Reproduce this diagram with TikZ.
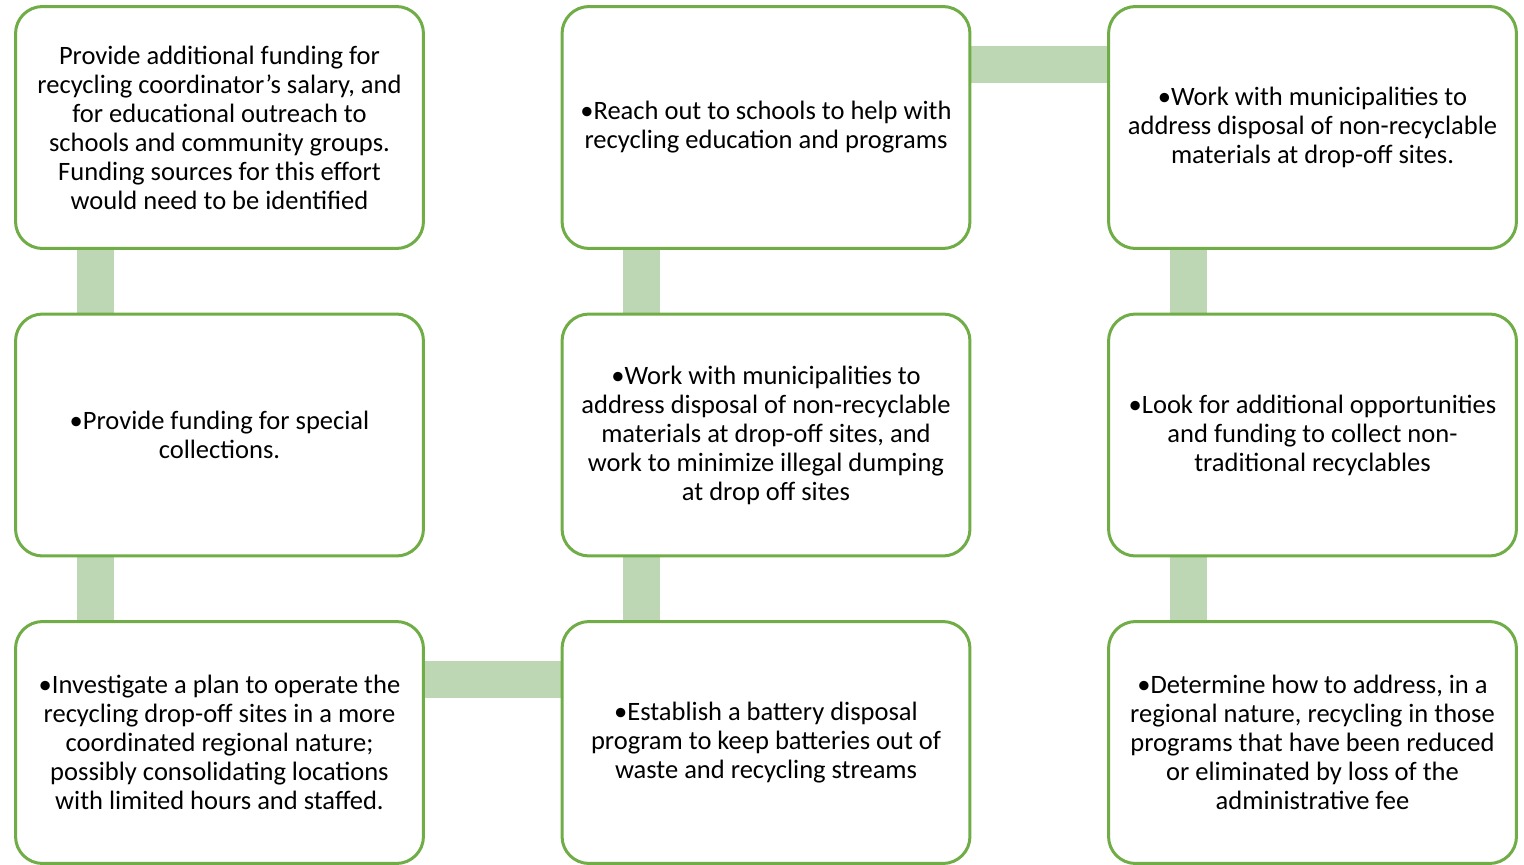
\documentclass[tikz,border=0pt]{standalone}
\usepackage{fontspec}
\setmainfont{Carlito}
\usetikzlibrary{backgrounds}
\definecolor{boxgreen}{RGB}{112,173,71}
\definecolor{linkgreen}{RGB}{189,214,179}

\begin{document}
\begin{tikzpicture}[x=0.02cm, y=-0.02cm,
    box/.style={draw=boxgreen, line width=0.06cm, fill=white, rounded corners=0.54cm,
        minimum width=8.16cm, minimum height=4.84cm, inner sep=0pt, align=center,
        font=\fontsize{15.1}{16.5}\selectfont},
    link/.style={draw=linkgreen, line width=0.74cm}]
\useasboundingbox (0,0) rectangle (1524,865);
    \node[box] (a) at (219.5, 127.5) {Provide additional funding for\\ recycling coordinator’s salary, and\\ for educational outreach to\\ schools and community groups.\\ Funding sources for this effort\\ would need to be identified};
    \node[box] (b) at (766, 127.5) {\textbullet Reach out to schools to help with\\ recycling education and programs};
    \node[box] (c) at (1312.5, 127.5) {\textbullet Work with municipalities to\\ address disposal of non-recyclable\\ materials at drop-off sites.};
    \node[box] (d) at (219.5, 435) {\textbullet Provide funding for special\\ collections.};
    \node[box] (e) at (766, 435) {\textbullet Work with municipalities to\\ address disposal of non-recyclable\\ materials at drop-off sites, and\\ work to minimize illegal dumping\\ at drop off sites};
    \node[box] (f) at (1312.5, 435) {\textbullet Look for additional opportunities\\ and funding to collect non-\\ traditional recyclables};
    \node[box] (g) at (219.5, 742.5) {\textbullet Investigate a plan to operate the\\ recycling drop-off sites in a more\\ coordinated regional nature;\\ possibly consolidating locations\\ with limited hours and staffed.};
    \node[box] (h) at (766, 742.5) {\textbullet Establish a battery disposal\\ program to keep batteries out of\\ waste and recycling streams};
    \node[box] (i) at (1312.5, 742.5) {\textbullet Determine how to address, in a\\ regional nature, recycling in those\\ programs that have been reduced\\ or eliminated by loss of the\\ administrative fee};
\begin{scope}[on background layer]
    \draw[link] ([xshift=1.62cm]a.south west) -- ([xshift=1.62cm]d.north west);
    \draw[link] ([xshift=1.62cm]d.south west) -- ([xshift=1.62cm]g.north west);
    \draw[link] ([yshift=-1.18cm]g.north east) -- ([yshift=-1.18cm]h.north west);
    \draw[link] ([xshift=1.62cm]h.north west) -- ([xshift=1.62cm]e.south west);
    \draw[link] ([xshift=1.62cm]e.north west) -- ([xshift=1.62cm]b.south west);
    \draw[link] ([yshift=-1.18cm]b.north east) -- ([yshift=-1.18cm]c.north west);
    \draw[link] ([xshift=1.62cm]c.south west) -- ([xshift=1.62cm]f.north west);
    \draw[link] ([xshift=1.62cm]f.south west) -- ([xshift=1.62cm]i.north west);
\end{scope}
\end{tikzpicture}
\end{document}
